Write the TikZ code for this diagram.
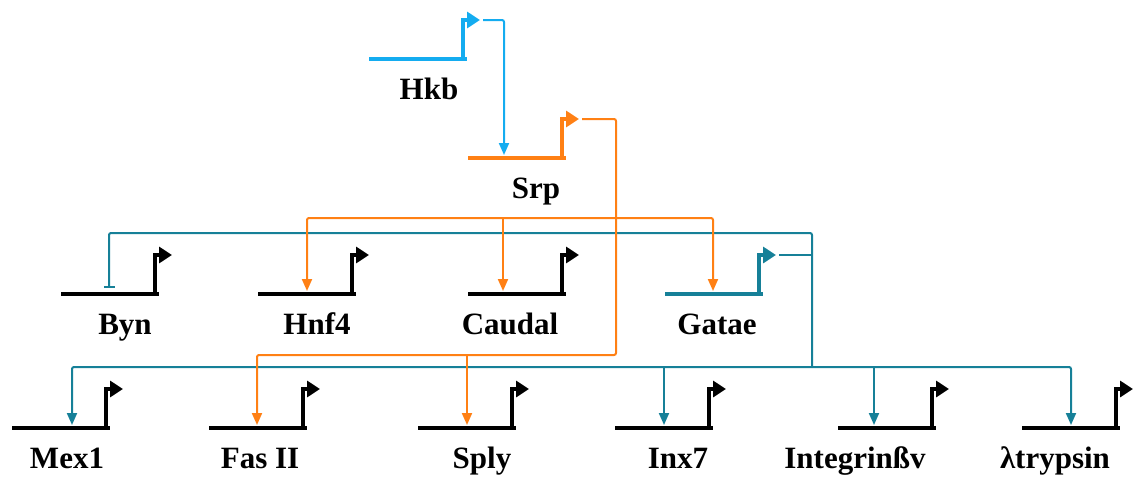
\documentclass[tikz,border=0pt]{standalone}
\usepackage{fontspec}
\setmainfont{Liberation Serif}
\usetikzlibrary{arrows.meta}

\definecolor{hkbblue}{RGB}{20,172,240}
\definecolor{srporange}{RGB}{255,128,20}
\definecolor{gatteal}{RGB}{22,128,152}

\tikzset{
  gene/.style={line width=4pt},
  promoter/.style={line width=3.5pt, -{Triangle[length=13pt,width=16pt]}},
  genename/.style={anchor=base, inner sep=0pt, font=\fontsize{31}{36}\selectfont\bfseries},
  act/.style={line width=2pt, rounded corners=2pt, -{Triangle[length=12pt,width=10pt]}},
  inh/.style={line width=2pt, rounded corners=2pt, -{Bar[width=11pt,line width=2pt]}},
}

% gene: id, x, y, colour, input offset, label offset, label
\newcommand{\drawgene}[7]{%
  \coordinate (#1) at (#2,#3);
  \draw[gene,#4] (#1) -- ++(98,0);
  \draw[promoter,#4] ([xshift=94pt]#1) |- ([xshift=111pt,yshift=39pt]#1) coordinate (#1-tss);
  \coordinate (#1-in) at ([xshift=#5pt,yshift=3pt]#1);
  \node[genename] (#1-name) at ([xshift=#6pt,yshift=-40pt]#1) {#7};
}

\begin{document}
\begin{tikzpicture}[x=1pt,y=-1pt]
\useasboundingbox (0,0) rectangle (1133,477);

% Genes
\drawgene{hkb}{369}{59}{hkbblue}{0}{60}{Hkb}
\drawgene{srp}{468}{158}{srporange}{36}{68}{Srp}

\drawgene{byn}{61}{294}{black}{48}{64}{Byn}
\drawgene{hnf}{258}{294}{black}{49}{59}{Hnf4}
\drawgene{caudal}{468}{294}{black}{35}{42}{Caudal}
\drawgene{gatae}{665}{294}{gatteal}{48}{52}{Gatae}

\drawgene{mex}{12}{428}{black}{60}{55}{Mex1}
\drawgene{fas}{209}{428}{black}{48}{51}{Fas II}
\drawgene{sply}{418}{428}{black}{49}{64}{Sply}
\drawgene{inx}{615}{428}{black}{49}{63}{Inx7}
\drawgene{integrin}{838}{428}{black}{36}{17}{Integrinßv}
\drawgene{trypsin}{1022}{428}{black}{49}{33}{λtrypsin}

% Bus points
\coordinate (gattop) at (812,233);
\coordinate (gatbot) at (812,367);
\coordinate (srpmid) at (616,218);
\coordinate (srpbot) at (616,355);

% Hkb -> Srp
\draw[act,hkbblue] ([xshift=3pt]hkb-tss) -| (srp-in);

% Gatae targets
\draw[line width=2pt,gatteal] ([xshift=3pt]gatae-tss) -- (gatae-tss -| gattop);
\draw[inh,gatteal] (gatbot) -- (gattop) -| ([yshift=3pt]byn-in);
\draw[act,gatteal] (gatbot) -| (mex-in);
\draw[act,gatteal] (gatbot) -| (trypsin-in);
\draw[act,gatteal] (inx-in |- gatbot) -- (inx-in);
\draw[act,gatteal] (integrin-in |- gatbot) -- (integrin-in);

% Srp targets
\draw[act,srporange] ([xshift=3pt]srp-tss) -| (srpbot) -| (fas-in);
\draw[act,srporange] (sply-in |- srpbot) -- (sply-in);
\draw[act,srporange] (srpmid) -| (hnf-in);
\draw[act,srporange] (srpmid) -| (gatae-in);
\draw[act,srporange] (caudal-in |- srpmid) -- (caudal-in);

\end{tikzpicture}
\end{document}
